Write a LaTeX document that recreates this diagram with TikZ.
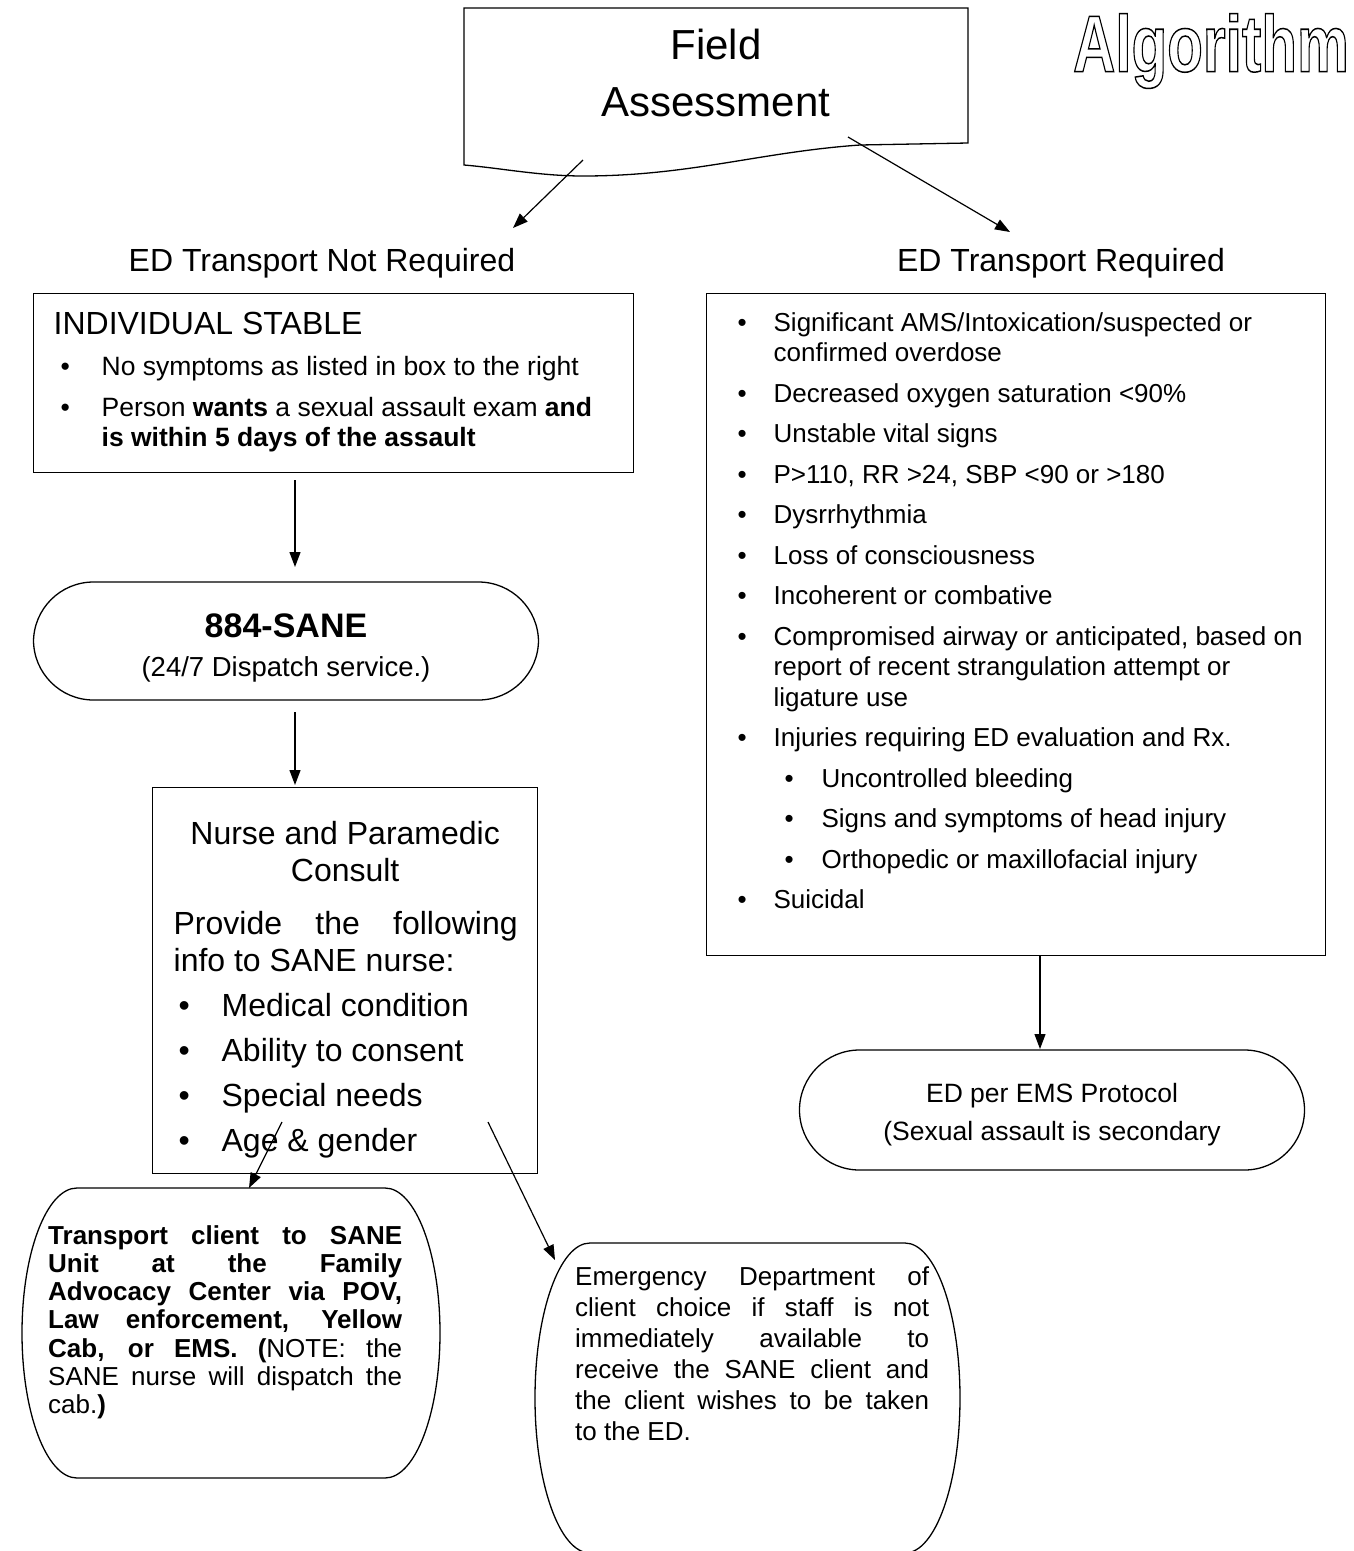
\documentclass[tikz,border=0pt]{standalone}
\usepackage{fontspec}
\setmainfont{Liberation Sans}
\usetikzlibrary{positioning,calc,arrows.meta}

% bullet line: bullet offset, text offset, text
\newcommand{\bitem}[3]{\par\hangindent=#2\hangafter=1\noindent\hspace*{#1}\hbox to \dimexpr#2-#1\relax{\textbullet\hfil}#3}
\newcommand{\fsz}[2]{\fontsize{#1}{#2}\selectfont}
\newcommand{\hollow}[1]{\special{pdf:literal direct 1 Tr 1.5 w}#1\special{pdf:literal direct 0 Tr}}

\begin{document}
\begin{tikzpicture}[x=1pt, y=-1pt,
    box/.style={rectangle, draw, line width=1.3pt, inner sep=0pt, anchor=north west},
    term/.style={rectangle, draw, line width=1.3pt, rounded corners=60pt, align=center, font=\fsz{26.5}{30}},
    head/.style={font=\fsz{32}{37}},
    outline/.style={draw, line width=1.3pt},
    line/.style={draw, line width=1.2pt, -{Triangle[length=15pt, width=11pt]}}
  ]
  \useasboundingbox (0,0) rectangle (1353,1551);

  % Title and field assessment
  \node (title) at (1211,51) [font=\fsz{80}{90}\bfseries] {\scalebox{0.73}[1]{\hollow{Algorithm}}};
  \draw[outline] (464,8) -- (968,8) -- (968,143) -- (860,145)
    .. controls (760,152) and (690,176) .. (583,176)
    .. controls (540,176) and (500,168) .. (464,165) -- cycle;
  \node (field) at (716,73) [align=center, font=\fsz{42}{57}] {Field\\Assessment};

  \node (notreq) at (322,263) [head] {ED Transport Not Required};
  \node (req) at (1061,263) [head] {ED Transport Required};

  % Left branch
  \node (stable) at (33,293) [box, text height=40.5pt, text depth=138.5pt] {%
    \begin{minipage}[t]{600pt}\raggedright\fsz{32}{37}%
      \hspace*{20pt}INDIVIDUAL STABLE\par
      \fsz{26.5}{30}\setlength{\parskip}{11pt}%
      \bitem{27pt}{68pt}{No symptoms as listed in box to the right}
      \bitem{27pt}{68pt}{Person \textbf{wants} a sexual assault exam \textbf{and}\newline\textbf{is within 5 days of the assault}}
    \end{minipage}};

  \node (sane) at (286,641) [term, minimum width=505pt, minimum height=118pt]
    {\rule{0pt}{37pt}\textbf{\fsz{34}{36}884-SANE}\\[9pt]{\fsz{27.5}{30}(24/7 Dispatch service.)}};

  \node (consult) at (152,787) [box, text height=56.5pt, text depth=329.5pt] {%
    \begin{minipage}[t]{385pt}\fsz{32}{37}%
      {\centering Nurse and Paramedic\\Consult\par}
      \vspace{16pt}
      {\leftskip=21pt \rightskip=20pt Provide the following\linebreak info to SANE nurse:\par}
      \setlength{\parskip}{8pt}%
      \bitem{26pt}{69pt}{Medical condition}
      \bitem{26pt}{69pt}{Ability to consent}
      \bitem{26pt}{69pt}{Special needs}
      \bitem{26pt}{69pt}{Age \& gender}
    \end{minipage}};

  \node (transport) at (48,1244) [anchor=base west, inner sep=0pt, font=\fsz{26}{28.3}] {%
    \begin{minipage}[t]{354pt}%
      \textbf{Transport client to SANE\linebreak Unit at the Family\linebreak
      Advocacy Center via POV,\linebreak Law enforcement, Yellow\linebreak
      Cab, or EMS. (}NOTE: the\linebreak SANE nurse will dispatch the\linebreak
      cab.\textbf{)}
    \end{minipage}};
  \draw[outline] (77,1188) -- (385,1188) arc[start angle=90, end angle=-90, x radius=55pt, y radius=145pt]
    -- (77,1478) arc[start angle=270, end angle=90, x radius=55pt, y radius=145pt] -- cycle;

  \node (edchoice) at (575,1285) [anchor=base west, inner sep=0pt, font=\fsz{26}{31}] {%
    \begin{minipage}[t]{354pt}%
      Emergency Department of\linebreak client choice if staff is not\linebreak
      immediately available to\linebreak receive the SANE client and\linebreak
      the client wishes to be taken\linebreak to the ED.
    \end{minipage}};
  \draw[outline] (590,1243) -- (905,1243) arc[start angle=90, end angle=-90, x radius=55pt, y radius=155pt]
    -- (590,1553) arc[start angle=270, end angle=90, x radius=55pt, y radius=155pt] -- cycle;

  % Right branch
  \node (symptoms) at (706,293) [box, text height=38pt, text depth=624pt] {%
    \begin{minipage}[t]{619pt}\raggedright\fsz{26}{30.3}\setlength{\parskip}{10.2pt}%
      \bitem{31pt}{67pt}{Significant AMS/Intoxication/suspected or\newline confirmed overdose}
      \bitem{31pt}{67pt}{Decreased oxygen saturation <90\%}
      \bitem{31pt}{67pt}{Unstable vital signs}
      \bitem{31pt}{67pt}{P>110, RR >24, SBP <90 or >180}
      \bitem{31pt}{67pt}{Dysrrhythmia}
      \bitem{31pt}{67pt}{Loss of consciousness}
      \bitem{31pt}{67pt}{Incoherent or combative}
      \bitem{31pt}{67pt}{Compromised airway or anticipated, based on\newline report of recent strangulation attempt or\newline ligature use}
      \bitem{31pt}{67pt}{Injuries requiring ED evaluation and Rx.}
      \bitem{78pt}{115pt}{Uncontrolled bleeding}
      \bitem{78pt}{115pt}{Signs and symptoms of head injury}
      \bitem{78pt}{115pt}{Orthopedic or maxillofacial injury}
      \bitem{31pt}{67pt}{Suicidal}
    \end{minipage}};

  \node (protocol) at (1052,1110) [term, minimum width=505pt, minimum height=120pt]
    {\rule{0pt}{28pt}ED per EMS Protocol\\[8pt](Sexual assault is secondary};

  % Connector ends
  \coordinate (fa_l) at (583,160);
  \coordinate (fa_r) at (848,137);
  \coordinate (nr_in) at (513,228);
  \coordinate (r_in) at (1010,232);
  \coordinate (st_out) at (295,480);
  \coordinate (sa_in) at (295,567);
  \coordinate (sa_out) at (295,712);
  \coordinate (co_in) at (295,785);
  \coordinate (age_a) at (282,1122);
  \coordinate (age_b) at (488,1122);
  \coordinate (tr_in) at (249,1188);
  \coordinate (ed_in) at (555,1260);
  \coordinate (sy_out) at (1040,956);
  \coordinate (pr_in) at (1040,1049);

  % Connections
  \path [line] (fa_l) -- (nr_in);
  \path [line] (fa_r) -- (r_in);
  \path [line] (st_out) -- (sa_in);
  \path [line] (sa_out) -- (co_in);
  \path [line] (age_a) -- (tr_in);
  \path [line] (age_b) -- (ed_in);
  \path [line] (sy_out) -- (pr_in);
\end{tikzpicture}
\end{document}
